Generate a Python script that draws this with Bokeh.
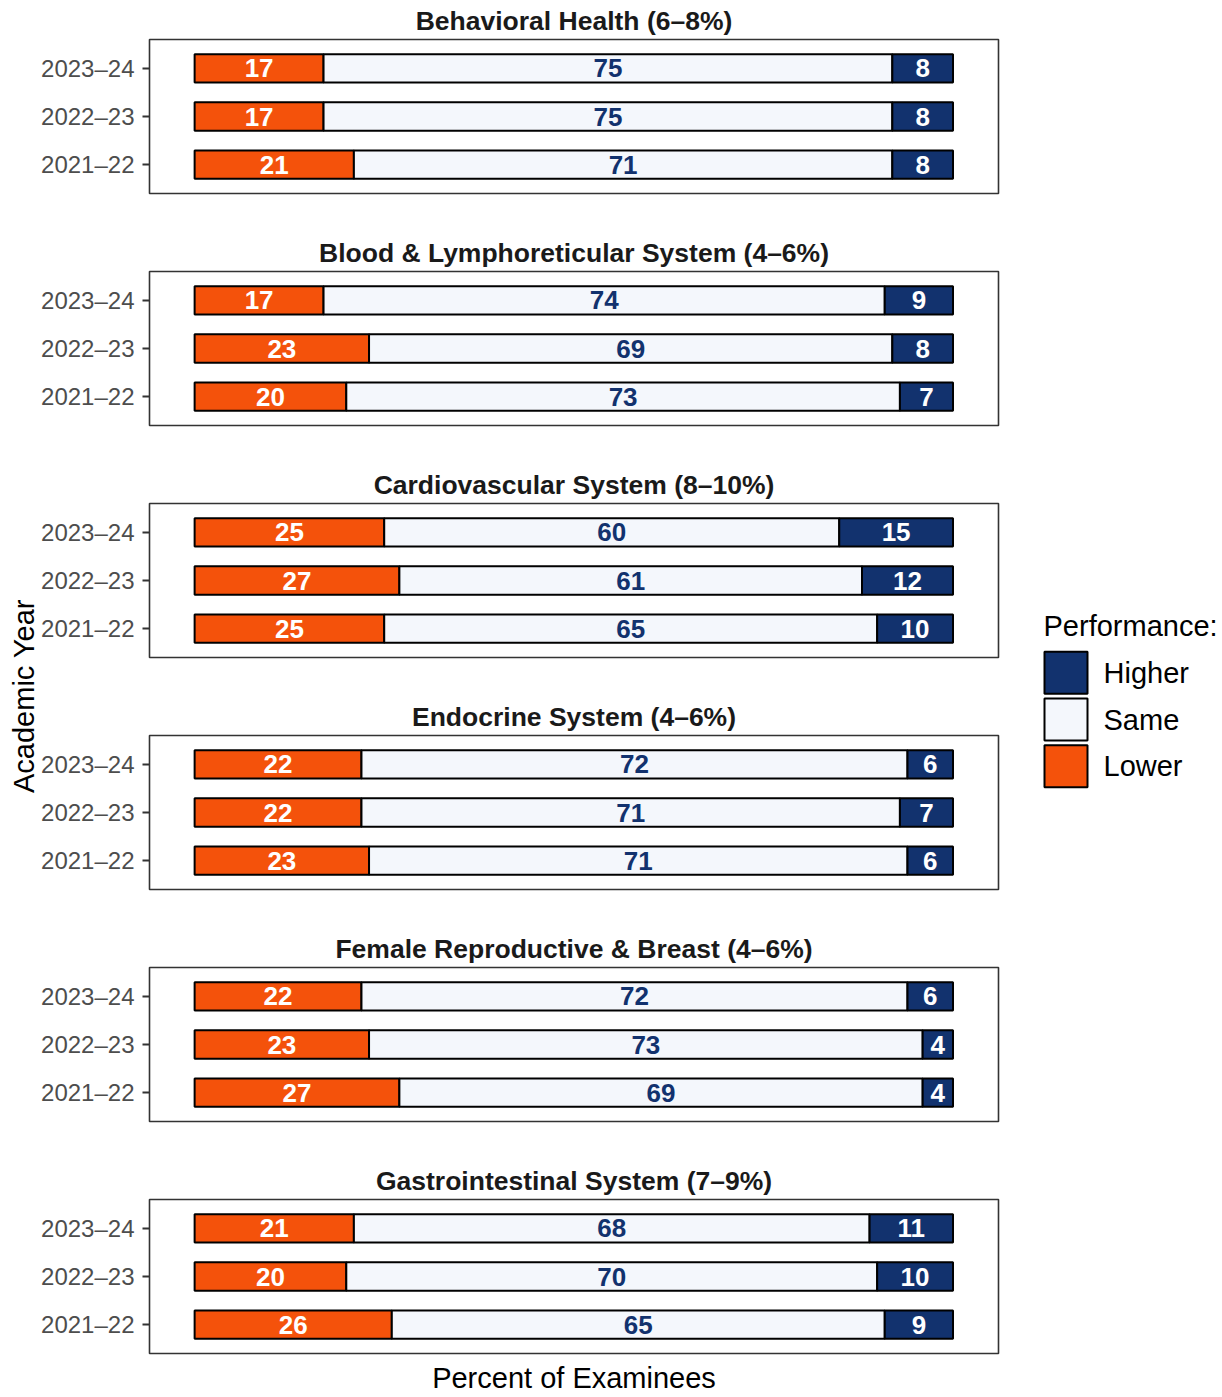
import numpy as np
import pandas as pd
from math import pi
from bokeh.plotting import figure
from bokeh.layouts import row, column
from bokeh.models import (ColumnDataSource, FactorRange, Range1d, FixedTicker,
                          Label)
from bokeh.core.properties import value
from bokeh.embed import file_html
from bokeh.resources import INLINE

# ---------------- data ----------------
years = ["2023–24", "2022–23", "2021–22"]
panel_titles = [
    "Behavioral Health (6–8%)",
    "Blood & Lymphoreticular System (4–6%)",
    "Cardiovascular System (8–10%)",
    "Endocrine System (4–6%)",
    "Female Reproductive & Breast (4–6%)",
    "Gastrointestinal System (7–9%)",
]
lower_vals = [[17, 17, 21], [17, 23, 20], [25, 27, 25], [22, 22, 23], [22, 23, 27], [21, 20, 26]]
same_vals = [[75, 75, 71], [74, 69, 73], [60, 61, 65], [72, 71, 71], [72, 73, 69], [68, 70, 65]]
higher_vals = [[8, 8, 8], [9, 8, 7], [15, 12, 10], [6, 7, 6], [6, 4, 4], [11, 10, 9]]
categories = ["Lower", "Same", "Higher"]
legend_order = ["Higher", "Same", "Lower"]

# ---------------- style ----------------
FONT = "Liberation Sans"
fill_colors = {"Lower": "#F4520B", "Same": "#F4F7FC", "Higher": "#12326E"}
text_colors = {"Lower": "white", "Same": "#12326E", "Higher": "white"}

YLAB_W = 38
PANEL_W = 970
PANEL_LEFT = 110
PANEL_RIGHT = 10
LEG_W = 214
TOP = 38
FRAME_H = 155
PITCH = 232
LAST_BOTTOM = 43
n = len(panel_titles)
TOTAL_H = (n - 1) * PITCH + TOP + FRAME_H + LAST_BOTTOM

panels = []
for i, title in enumerate(panel_titles):
    last = (i == n - 1)
    df = pd.DataFrame({"year": years, "Lower": lower_vals[i],
                       "Same": same_vals[i], "Higher": higher_vals[i]})
    src = ColumnDataSource(df)
    h = TOP + FRAME_H + (LAST_BOTTOM if last else PITCH - TOP - FRAME_H)
    p = figure(width=PANEL_W, height=h,
               y_range=FactorRange(factors=years[::-1], range_padding=0.1,
                                   range_padding_units="absolute"),
               x_range=Range1d(-5.95, 106.0),
               x_axis_location="below" if last else None,
               toolbar_location=None, output_backend="svg",
               min_border_left=PANEL_LEFT, min_border_right=PANEL_RIGHT,
               min_border_top=TOP,
               min_border_bottom=(0 if last else PITCH - TOP - FRAME_H))
    p.hbar_stack(categories, y="year", height=0.59,
                 fill_color=[fill_colors[c] for c in categories],
                 line_color="black", line_width=2, source=src)
    cum = df[categories].cumsum(axis=1)
    for c in categories:
        mids = (cum[c] - df[c] / 2).tolist()
        p.text(x=mids, y=years, text=[str(v) for v in df[c]],
               text_color=text_colors[c], text_font=value(FONT),
               text_font_style="bold", text_font_size="26px",
               text_align="center", text_baseline="middle")
    p.title.text = title
    p.title.align = "center"
    p.title.text_font = FONT
    p.title.text_font_size = "26.5px"
    p.title.text_font_style = "bold"
    p.title.text_color = "#1A1A1A"
    p.title.text_line_height = 0.8
    p.title.standoff = 7
    p.grid.visible = False
    p.outline_line_color = "#333333"
    p.outline_line_width = 1.6
    ya = p.yaxis[0]
    ya.axis_line_color = None
    ya.major_tick_line_color = "#333333"
    ya.major_tick_line_width = 2
    ya.major_tick_out = 7
    ya.major_tick_in = 0
    ya.major_label_standoff = 8
    ya.major_label_text_font = FONT
    ya.major_label_text_font_size = "24px"
    ya.major_label_text_color = "#4D4D4D"
    if last:
        xa = p.xaxis[0]
        xa.ticker = FixedTicker(ticks=[])
        xa.axis_line_color = None
        xa.major_tick_line_color = None
        xa.minor_tick_line_color = None
        xa.major_label_text_font_size = "0px"
        xa.axis_label = "Percent of Examinees"
        xa.axis_label_text_font = FONT
        xa.axis_label_text_font_size = "29px"
        xa.axis_label_text_font_style = "normal"
        xa.axis_label_text_color = "black"
        xa.axis_label_standoff = 8
    panels.append(p)

# left axis title
ylab = figure(width=YLAB_W, height=TOTAL_H, x_range=Range1d(0, YLAB_W),
              y_range=Range1d(0, TOTAL_H), min_border=0,
              x_axis_location=None, y_axis_location=None,
              toolbar_location=None, output_backend="svg",
              outline_line_color=None)
ylab.frame_align = False
ylab.grid.visible = False
mid_from_top = (TOP + (n - 1) * PITCH + TOP + FRAME_H) / 2
ylab.add_layout(Label(x=23, y=TOTAL_H - mid_from_top, text="Academic Year",
                      angle=pi / 2, text_align="center", text_baseline="middle",
                      text_font=FONT, text_font_size="29px", text_color="black"))

# legend drawn as a small categorical figure: keys + labels, title on top
LEG_TOP = 649
LEG_FRAME_H = 140
KEY_X0 = 35
KEY_W = 43
LABEL_X = 95
lf = figure(width=LEG_W, height=TOTAL_H, x_range=Range1d(0, LEG_W),
            y_range=FactorRange(factors=legend_order[::-1]),
            min_border_left=0, min_border_right=0,
            min_border_top=LEG_TOP,
            min_border_bottom=TOTAL_H - LEG_TOP - LEG_FRAME_H,
            x_axis_location=None, y_axis_location=None,
            toolbar_location=None, output_backend="svg",
            outline_line_color=None)
lf.frame_align = False
lf.grid.visible = False
leg_src = ColumnDataSource(dict(cat=legend_order,
                                color=[fill_colors[c] for c in legend_order]))
lf.hbar(y="cat", left=KEY_X0 + 1, right=KEY_X0 + 1 + KEY_W, height=0.9,
        fill_color="color", line_color="black", line_width=2, source=leg_src)
lf.text(x=LABEL_X, y="cat", text="cat", source=leg_src,
        text_font=value(FONT), text_font_size="29px", text_color="black",
        text_align="left", text_baseline="middle")
lf.title.text = "Performance:"
lf.title.align = "left"
lf.title.offset = KEY_X0
lf.title.text_font = FONT
lf.title.text_font_size = "29px"
lf.title.text_font_style = "normal"
lf.title.text_color = "black"
lf.title.standoff = 15

layout = row(ylab, column(*panels), lf)
open("out.html", "w").write(file_html(layout, INLINE))
